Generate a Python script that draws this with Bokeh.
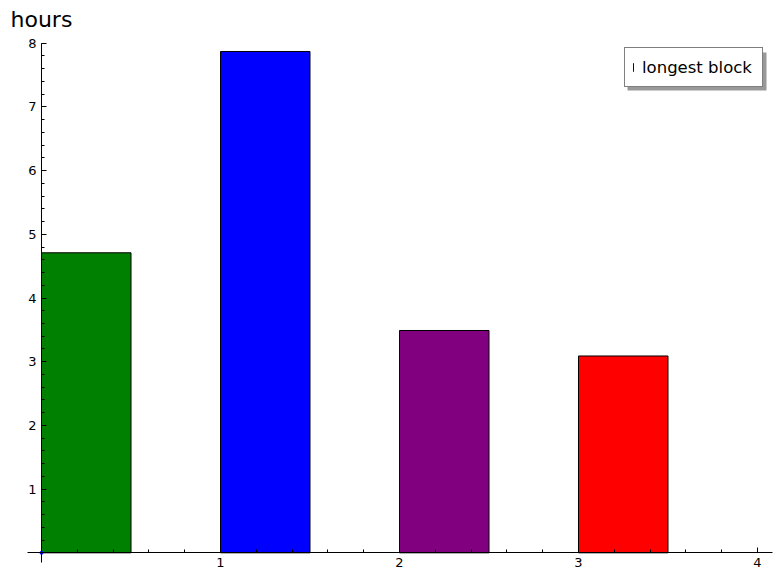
from bokeh.plotting import figure
from bokeh.models import (Range1d, SingleIntervalTicker, Legend, LegendItem,
                          BoxAnnotation, ColumnDataSource)
from bokeh.embed import file_html
from bokeh.resources import INLINE

# ---- data ----
bar_positions = [0, 1, 2, 3]
bar_heights = [4.71, 7.87, 3.49, 3.09]
bar_colors = ["#008000", "#0000ff", "#800080", "#ff0000"]
bar_width = 0.5
series_label = "longest block"
y_axis_label = "hours"
origin_x = [0]
origin_y = [0]

src = ColumnDataSource(dict(
    left=bar_positions,
    right=[b + bar_width for b in bar_positions],
    top=bar_heights,
    bottom=[0] * len(bar_positions),
    color=bar_colors,
))

FONT = "DejaVu Sans"

p = figure(width=781, height=582, output_backend="svg", toolbar_location=None,
           x_range=Range1d(-0.2291, 4.1341), y_range=Range1d(-0.466, 8.121),
           title=y_axis_label,
           min_border_left=0, min_border_right=0, min_border_top=35,
           min_border_bottom=0)
p.outline_line_color = None
p.xgrid.visible = False
p.ygrid.visible = False
p.background_fill_color = "white"
p.border_fill_color = "white"

p.title.align = "left"
p.title.offset = 10
p.title.standoff = 7
p.title.text_font = FONT
p.title.text_font_size = "22px"
p.title.text_font_style = "normal"
p.title.text_color = "black"

bars = p.quad(left="left", right="right", top="top", bottom="bottom",
              source=src, fill_color="color", line_color="black", line_width=1)
p.scatter(origin_x, origin_y, size=3, color="#0000ff")

xa = p.xaxis[0]
ya = p.yaxis[0]
xa.bounds = (-0.0782, 4.0838)
ya.bounds = (-0.152, 8.0)
for ax in (xa, ya):
    ax.ticker = SingleIntervalTicker(interval=1, num_minor_ticks=5)
    ax.fixed_location = 0
    ax.major_tick_in = 5
    ax.major_tick_out = 0
    ax.minor_tick_in = 3
    ax.minor_tick_out = 0
    ax.axis_line_color = "black"
    ax.major_tick_line_color = "black"
    ax.minor_tick_line_color = "black"
    ax.major_label_text_font = FONT
    ax.major_label_text_font_size = "13px"
    ax.major_label_text_color = "black"
    ax.major_label_standoff = 5
    ax.major_label_overrides = {0: ""}

shadow = BoxAnnotation(left=627, right=766, bottom=492, top=530,
                       left_units="screen", right_units="screen",
                       top_units="screen", bottom_units="screen",
                       fill_color="#999999", fill_alpha=1.0, line_color=None)
p.add_layout(shadow)

legend = Legend(items=[LegendItem(label=series_label, renderers=[bars], index=0)],
                location=(624, 495), label_text_font=FONT,
                label_text_font_size="16.5px", label_text_color="black",
                glyph_width=1, glyph_height=10, label_standoff=8,
                label_width=112, label_height=22,
                padding=8, border_line_color="black", border_line_width=1,
                background_fill_alpha=1.0, background_fill_color="white")
p.add_layout(legend)

open("out.html", "w").write(file_html(p, INLINE))
